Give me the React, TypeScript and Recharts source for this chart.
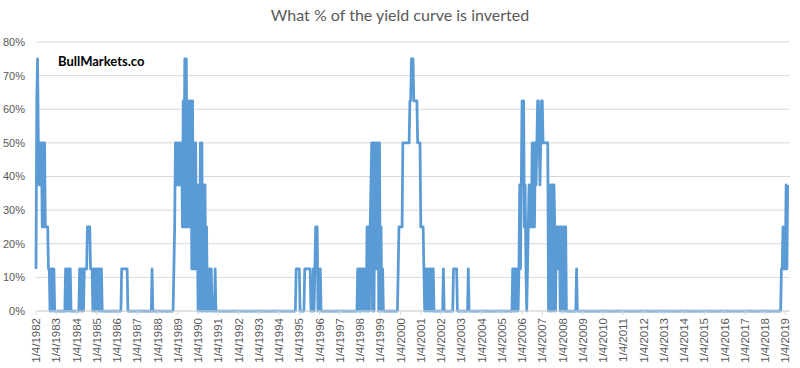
import { LineChart, Line, XAxis, YAxis, CartesianGrid } from 'recharts'

// one string per year, one digit per two weeks, digit = eighths of the curve inverted
const years = [
  1982, 1983, 1984, 1985, 1986, 1987, 1988, 1989, 1990, 1991, 1992, 1993, 1994,
  1995, 1996, 1997, 1998, 1999, 2000, 2001, 2002, 2003, 2004, 2005, 2006, 2007,
  2008, 2009, 2010, 2011, 2012, 2013, 2014, 2015, 2016, 2017, 2018, 2019,
]
const Z = '00000000000000000000000000'
const inverted = [
  '15643434242422221101010100', // 1982
  '00000000000010101010000000',
  '00001010101111222211101010',
  '10101010000000000000000000',
  '00000011111111000000000000',
  '00000000000000000001000000',
  '00000000000000000000012434',
  '34343425262625252515141413', // 1989
  '03040403030201010100001000',
  Z,
  Z,
  Z,
  '00000000000000000000001111',
  '10000001111111100010121201', // 1995
  '01000000000000000000000000',
  '00000000000000000000000101',
  '01010101020202340404141404',
  '02010000000000000000000122',
  '22244444444455666555554444', // 2000
  '22221010101010101000000000',
  '00010000000000001111100000',
  '00000000010000000000000000',
  Z,
  '00000000000000101010101313', // 2005
  '53523101232324242434554345',
  '54444444030303032021212020',
  '20202000000000000010000000',
  Z, Z, Z, Z, Z, Z, Z, Z, Z, // 2009-2017
  '00000000000000000000011212', // 2018
  '1313',
]

const PER_YEAR = 26
const STEP = 12.5
const yTicks = [0, 10, 20, 30, 40, 50, 60, 70, 80]
const xTicks = years.map((_, k) => k * PER_YEAR)
const xLabels = years.map((y) => `1/4/${y}`)

const data = inverted.flatMap((s, k) =>
  s.split('').map((c, j) => ({ i: k * PER_YEAR + j, v: Number(c) * STEP }))
)

const FONT = '"Liberation Sans", Arial, sans-serif'
const GREY = '#595959'

function XTick({ x, y, payload }: any) {
  const k = xTicks.indexOf(payload.value)
  return (
    <text
      x={0}
      y={0}
      transform={`translate(${x},${y}) rotate(-90)`}
      textAnchor="end"
      dy="0.36em"
      fontSize={11.5}
      fill={GREY}
      fontFamily={FONT}
    >
      {xLabels[k]}
    </text>
  )
}

export default function App() {
  return (
    <div style={{ position: 'absolute', left: 0, top: 0, width: 800, height: 368, background: '#fff' }}>
      <div
        style={{
          position: 'absolute',
          top: 5,
          left: 0,
          width: 800,
          textAlign: 'center',
          fontFamily: 'Lato, sans-serif',
          fontSize: 16,
          color: GREY,
        }}
      >
        What % of the yield curve is inverted
      </div>
      <div
        style={{
          position: 'absolute',
          top: 53,
          left: 58,
          fontFamily: 'Lato, sans-serif',
          fontWeight: 'bold',
          fontSize: 13,
          color: '#000',
          zIndex: 2,
        }}
      >
        BullMarkets.co
      </div>
      <LineChart width={800} height={368} data={data} margin={{ top: 42, right: 10, bottom: 0, left: 0 }}>
        <CartesianGrid vertical={false} stroke="#d9d9d9" />
        <XAxis
          dataKey="i"
          type="number"
          domain={[0, 968]}
          ticks={xTicks}
          interval={0}
          height={57}
          tick={<XTick />}
          tickSize={4}
          tickMargin={3}
          axisLine={{ stroke: '#d9d9d9' }}
          tickLine={{ stroke: '#d9d9d9' }}
        />
        <YAxis
          domain={[0, 80]}
          ticks={yTicks}
          width={36}
          axisLine={false}
          tickLine={false}
          tickSize={0}
          tickMargin={11}
          tickFormatter={(v) => `${v}%`}
          tick={{ fontSize: 11, fill: GREY, fontFamily: FONT }}
        />
        <Line
          dataKey="v"
          type="linear"
          stroke="#5b9bd5"
          strokeWidth={2.75}
          strokeLinejoin="round"
          dot={false}
          activeDot={false}
          isAnimationActive={false}
        />
      </LineChart>
    </div>
  )
}
